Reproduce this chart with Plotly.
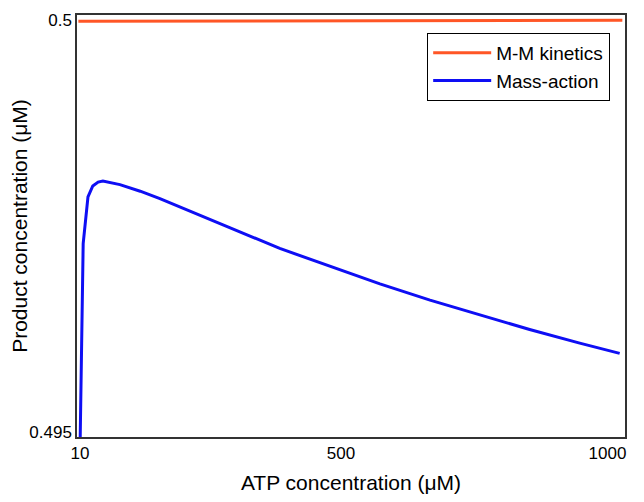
import plotly.graph_objects as go

# ATP concentration (uM) and product concentration (uM)
atp_mass_action = [7, 16, 25, 34, 44, 53, 85, 123, 160, 198, 292, 385, 479, 573, 667, 761, 854, 948, 1023]
prod_mass_action = [0.4935, 0.497289, 0.497855, 0.497988, 0.498036, 0.498048, 0.498005, 0.497925,
                    0.497835, 0.497735, 0.497480, 0.497230, 0.497012, 0.496800, 0.496602, 0.496420,
                    0.496245, 0.496080, 0.495955]

atp_mm = [7, 500, 1028]
prod_mm = [0.499989, 0.499995, 0.500000]

x_tick_vals = [10, 500, 1000]
x_tick_text = ["10", "500", "1000"]
y_tick_vals = [0.495, 0.5]
y_tick_text = ["0.495", "0.5"]

series_names = ["M-M kinetics", "Mass-action"]
series_colors = ["#FF5626", "#0E0EF4"]

font_family = "Liberation Sans, Arial, Helvetica, sans-serif"

fig = go.Figure()
fig.add_trace(go.Scatter(x=atp_mm, y=prod_mm, mode="lines", name=series_names[0],
                         line=dict(color=series_colors[0], width=3)))
fig.add_trace(go.Scatter(x=atp_mass_action, y=prod_mass_action, mode="lines", name=series_names[1],
                         line=dict(color=series_colors[1], width=3)))

fig.update_layout(
    width=644, height=502,
    margin=dict(l=69, r=27, t=3, b=73),
    paper_bgcolor="white", plot_bgcolor="white",
    font=dict(family=font_family, color="black", size=17),
    showlegend=True,
    legend=dict(x=0.9726, y=0.958, xanchor="right", yanchor="top",
                bgcolor="white", bordercolor="black", borderwidth=1.2,
                font=dict(size=19), itemwidth=58, entrywidth=206, entrywidthmode="pixels",
                tracegroupgap=4),
    xaxis=dict(range=[4.4, 1033], tickvals=x_tick_vals, ticktext=x_tick_text,
               showgrid=False, zeroline=False, showline=True, mirror=True,
               linecolor="#333333", linewidth=1.5, ticks="",
               tickfont=dict(size=17),
               title=dict(text="ATP concentration (μM)", font=dict(size=21), standoff=13)),
    yaxis=dict(range=[0.49494, 0.500065], tickvals=y_tick_vals, ticktext=y_tick_text,
               showgrid=False, zeroline=False, showline=True, mirror=True,
               linecolor="#333333", linewidth=1.5, ticks="",
               tickfont=dict(size=17),
               title=dict(text="Product concentration (μM)", font=dict(size=21), standoff=0)),
)

fig.write_html("out.html")
